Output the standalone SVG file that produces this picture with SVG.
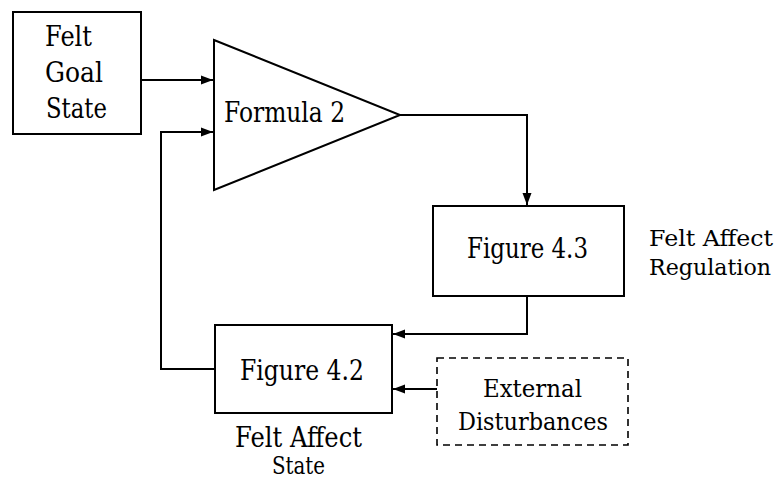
<svg xmlns="http://www.w3.org/2000/svg" width="781" height="479" viewBox="0 0 781 479">
<style>
.box{fill:#fff;stroke:#000;stroke-width:2}
.dash{fill:#fff;stroke:#000;stroke-width:1.6;stroke-dasharray:7,5}
.ln{fill:none;stroke:#000;stroke-width:2}
text{font-family:'DejaVu Serif','Liberation Serif','Noto Serif',serif;font-size:27px;fill:#000}
.s{font-size:24px}
.r{font-size:23px}
</style>
<defs>
<marker id="ah" viewBox="0 0 12 10" refX="12" refY="5" markerWidth="12" markerHeight="10" markerUnits="userSpaceOnUse" orient="auto">
<path d="M0,0.5 L12,5 L0,9.5 Z" fill="#000"/>
</marker>
</defs>
<g id="connectors">
<path class="ln" d="M141,80 L213,80" marker-end="url(#ah)"/>
<path class="ln" d="M215,369 L161,369 L161,132 L213,132" marker-end="url(#ah)"/>
<path class="ln" d="M400,115 L527,115 L527,205" marker-end="url(#ah)"/>
<path class="ln" d="M527,296 L527,334 L393,334" marker-end="url(#ah)"/>
<path class="ln" d="M437,389 L393,389" marker-end="url(#ah)"/>
</g>
<g id="goal">
<rect class="box" x="13" y="12" width="128" height="122"/>
<text x="45" y="46" textLength="47" lengthAdjust="spacingAndGlyphs">Felt</text>
<text x="45" y="82" textLength="58" lengthAdjust="spacingAndGlyphs">Goal</text>
<text x="46" y="118" textLength="61" lengthAdjust="spacingAndGlyphs">State</text>
</g>
<g id="formula">
<path class="box" d="M214,40 L400,115 L214,190 Z"/>
<text x="224" y="122" textLength="121" lengthAdjust="spacingAndGlyphs">Formula 2</text>
</g>
<g id="fig43">
<rect class="box" x="433" y="206" width="191" height="90"/>
<text x="467" y="258" textLength="121" lengthAdjust="spacingAndGlyphs">Figure 4.3</text>
<text class="r" x="649" y="246" textLength="124" lengthAdjust="spacingAndGlyphs">Felt Affect</text>
<text class="r" x="649" y="275" textLength="122" lengthAdjust="spacingAndGlyphs">Regulation</text>
</g>
<g id="fig42">
<rect class="box" x="215" y="325" width="177" height="88"/>
<text x="240" y="380" textLength="124" lengthAdjust="spacingAndGlyphs">Figure 4.2</text>
<text x="235" y="447" textLength="127" lengthAdjust="spacingAndGlyphs">Felt Affect</text>
<text class="s" x="272" y="474" textLength="53" lengthAdjust="spacingAndGlyphs">State</text>
</g>
<g id="external">
<rect class="dash" x="437" y="358" width="191" height="87"/>
<text class="s" x="483" y="397" textLength="99" lengthAdjust="spacingAndGlyphs">External</text>
<text class="s" x="458" y="430" textLength="150" lengthAdjust="spacingAndGlyphs">Disturbances</text>
</g>
</svg>
